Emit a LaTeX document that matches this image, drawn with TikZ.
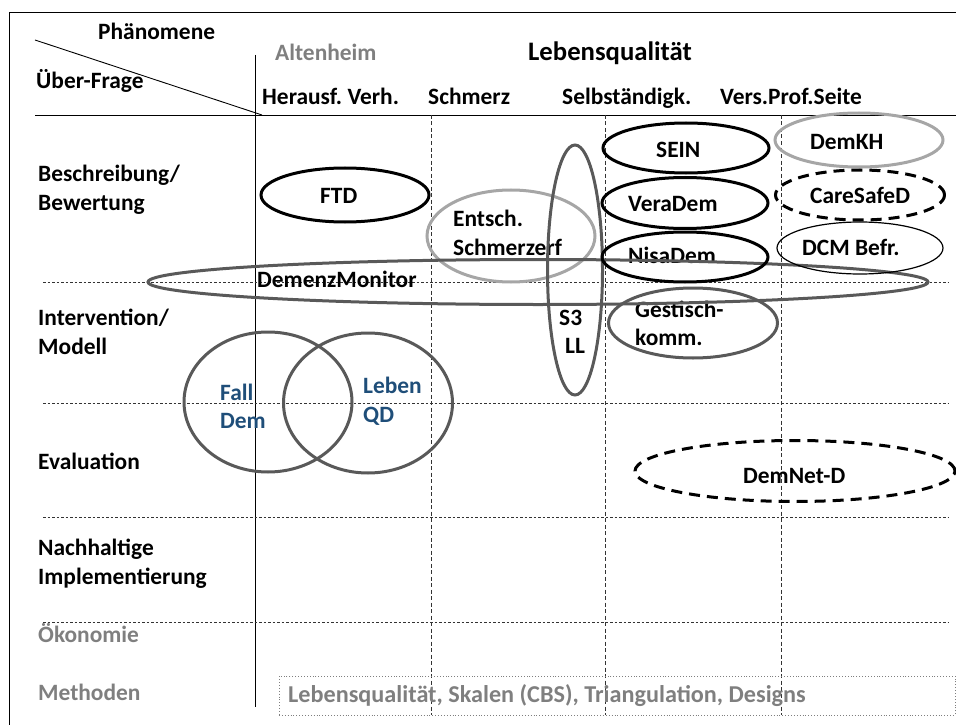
\documentclass[tikz,border=0pt]{standalone}
\usepackage{fontspec}
\setmainfont{Carlito}
\usetikzlibrary{shapes.geometric}
\frenchspacing
\definecolor{dg}{HTML}{595959}
\definecolor{lg}{HTML}{A6A6A6}
\definecolor{blu}{HTML}{1F4E79}
\definecolor{gr}{HTML}{7F7F7F}
\tikzset{
  lbl/.style={font=\fontsize{23.5}{28}\selectfont\bfseries, inner sep=0pt, anchor=base west},
  big/.style={font=\fontsize{26.8}{30}\selectfont\bfseries, inner sep=0pt, anchor=base west},
  ell/.style={ellipse, draw, inner sep=0pt, line width=3bp},
  hgrid/.style={dash pattern=on 2.5bp off 2bp, line width=0.8bp, draw=black!80},
  vgrid/.style={dash pattern=on 4bp off 2.5bp, line width=0.8bp, draw=black!80},
  thin/.style={line width=0.9bp},
  bigdash/.style={dash pattern=on 11bp off 7bp}
}
\begin{document}
\begin{tikzpicture}[x=1bp,y=-1bp]
\useasboundingbox (0,0) rectangle (956,725);
% frame
\coordinate (tl) at (9,12); \coordinate (tr) at (956,12); \coordinate (bl) at (9,725);
\draw[thin] (tr) -- (tl) -- (bl);
% diagonal and header line
\coordinate (d1) at (35,40); \coordinate (d2) at (262,115);
\draw[thin] (d1) -- (d2);
\coordinate (h1) at (35,115); \coordinate (h2) at (956,115);
\draw[thin] (h1) -- (h2);
\coordinate (v1) at (255,55); \coordinate (v2) at (255,707);
\draw[thin] (v1) -- (v2);
% grid
\foreach \x/\n in {431/a,605/b,781/c}{
  \coordinate (vt\n) at (\x,115); \coordinate (vb\n) at (\x,715);
  \draw[vgrid] (vt\n) -- (vb\n);
}
\foreach \y/\n in {282/a,403/b,517/c,622/d}{
  \coordinate (hl\n) at (43,\y); \coordinate (hr\n) at (948,\y);
  \draw[hgrid] (hl\n) -- (hr\n);
}
% header texts
\node[lbl] (phaen) at (98,40) {Phänomene};
\node[lbl] (ueber) at (36,89) {Über-Frage};
\node[lbl, text=gr] (alten) at (275,61) {Altenheim};
\node[big] (lq) at (528,61) {Lebensqualität};
\node[lbl] (herausf) at (262,105) {Herausf. Verh.};
\node[lbl] (schmerz) at (428,105) {Schmerz};
\node[lbl] (selb) at (562,105) {Selbständigk.};
\node[lbl] (vers) at (720,105) {Vers.Prof.Seite};
% row labels
\node[lbl] (r1a) at (38,182) {Beschreibung/};
\node[lbl] (r1b) at (38,210) {Bewertung};
\node[lbl] (r2a) at (38,325) {Intervention/};
\node[lbl] (r2b) at (38,354) {Modell};
\node[lbl] (r3) at (38,469) {Evaluation};
\node[lbl] (r4a) at (38,555) {Nachhaltige};
\node[lbl] (r4b) at (38,584) {Implementierung};
\node[lbl, text=gr] (r5) at (38,642) {Ökonomie};
\node[lbl, text=gr] (r6) at (38,700) {Methoden};
% methods box
\node[draw=gr, dotted, thin, minimum width=676bp, minimum height=39bp, inner sep=0pt] (mbox) at (617,695.5) {};
\node[lbl, text=gr, font=\fontsize{24.3}{28}\selectfont\bfseries] (mtext) at (288,702) {Lebensqualität, Skalen (CBS), Triangulation, Designs};
% texts
\node[lbl] (tftd) at (320,203) {FTD};
\node[lbl] (tentscha) at (453,226) {Entsch.};
\node[lbl] (tentschb) at (453,255) {Schmerzerf};
\node[lbl] (tdm) at (257,287) {DemenzMonitor};
\node[lbl] (ts3a) at (559,325) {S3};
\node[lbl] (ts3b) at (565,353) {LL};
\node[lbl] (tsein) at (656,158) {SEIN};
\node[lbl] (tvera) at (628,211) {VeraDem};
\node[lbl] (tnisa) at (628,263) {NisaDem};
\node[lbl] (tgesta) at (635,317) {Gestisch-};
\node[lbl] (tgestb) at (635,345) {komm.};
\node[lbl] (tkh) at (810,150) {DemKH};
\node[lbl] (tcare) at (810,203) {CareSafeD};
\node[lbl] (tdcm) at (802,255) {DCM Befr.};
\node[lbl, text=blu] (tfalla) at (220,400) {Fall};
\node[lbl, text=blu] (tfallb) at (220,428) {Dem};
\node[lbl, text=blu] (tlebena) at (363,393) {Leben};
\node[lbl, text=blu] (tlebenb) at (363,422) {QD};
\node[lbl] (tdemnet) at (743,483) {DemNet-D};
% ellipses
\node[ell, minimum width=168bp, minimum height=54bp] (ftd) at (345,195) {};
\node[ell, draw=lg, minimum width=168bp, minimum height=92bp] (entsch) at (511,236) {};
\node[ell, draw=dg, minimum width=780bp, minimum height=45bp] (demenz) at (538,282) {};
\node[ell, draw=dg, minimum width=55bp, minimum height=250bp] (s3) at (575,270) {};
\node[ell, minimum width=166bp, minimum height=50bp] (sein) at (686,148) {};
\node[ell, minimum width=166bp, minimum height=51bp] (vera) at (685,203) {};
\node[ell, minimum width=166bp, minimum height=50bp] (nisa) at (685,257) {};
\node[ell, draw=dg, minimum width=169bp, minimum height=70bp] (gest) at (693,323) {};
\node[ell, draw=lg, minimum width=168bp, minimum height=54bp] (demkh) at (859,140) {};
\node[ell, bigdash, minimum width=169bp, minimum height=50bp] (care) at (860,195) {};
\node[ell, line width=1.2bp, minimum width=166bp, minimum height=52bp] (dcm) at (860,248) {};
\node[ell, draw=dg, minimum width=168bp, minimum height=140bp] (fall) at (268,402) {};
\node[ell, draw=dg, minimum width=169bp, minimum height=140bp] (leben) at (368,403) {};
\node[ell, bigdash, minimum width=320bp, minimum height=61bp] (demnet) at (795,471) {};
\end{tikzpicture}
\end{document}
